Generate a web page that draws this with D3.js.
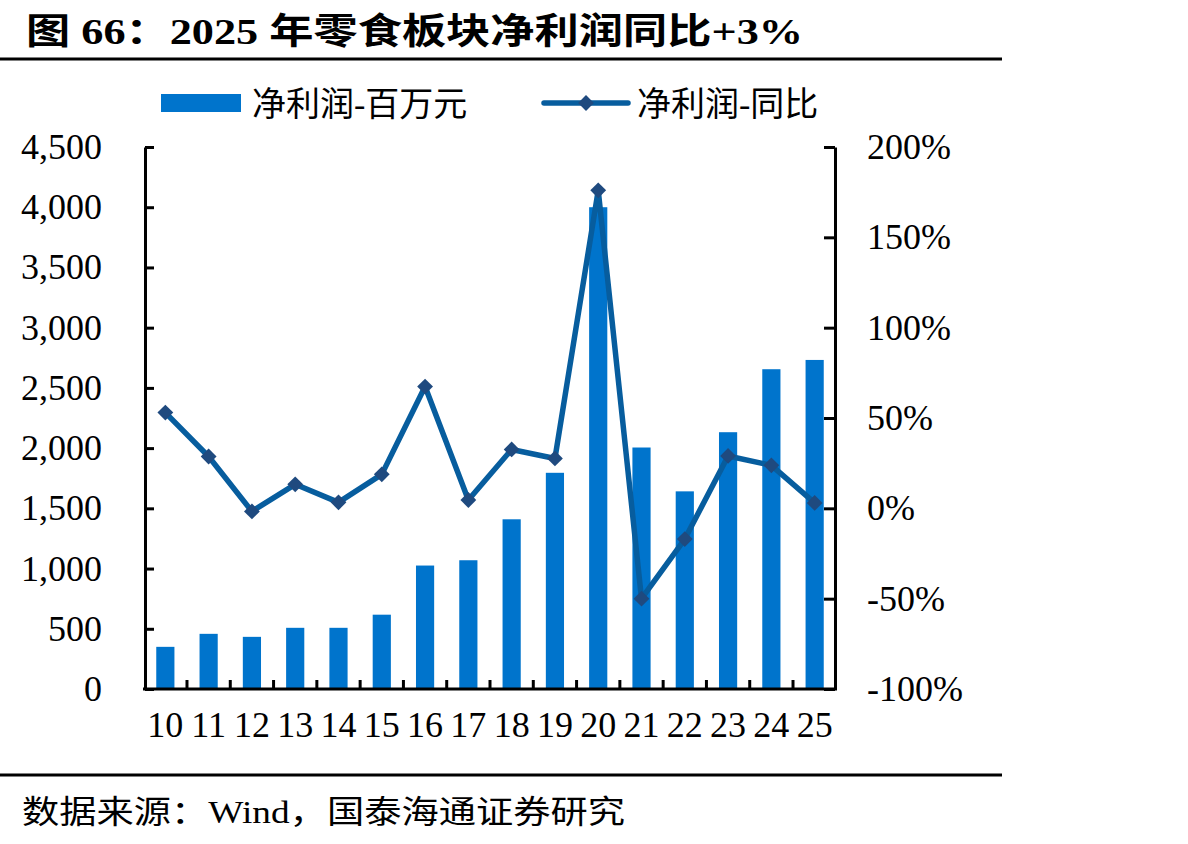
<!DOCTYPE html>
<html>
<head>
<meta charset="utf-8">
<script src="https://cdn.jsdelivr.net/npm/d3@7"></script>
<style>
  body { margin: 0; background: #fff; }
  text { font-family: "Liberation Serif", "Noto Sans CJK SC", serif; }
</style>
</head>
<body>
<div id="chart"></div>
<script>
// data
const years = ['10','11','12','13','14','15','16','17','18','19','20','21','22','23','24','25'];
const netProfit = [350, 458, 433, 508, 508, 617, 1025, 1069, 1409, 1795, 4000, 2005, 1641, 2132, 2655, 2732]; // 百万元
const yoyGrowth = [53, 28.7, -1.7, 13.3, 3.3, 18.8, 67.4, 4.6, 32.6, 27.6, 176, -50, -17, 29, 23.8, 3]; // %
const leftTicks = [0, 500, 1000, 1500, 2000, 2500, 3000, 3500, 4000, 4500];
const rightTicks = [-100, -50, 0, 50, 100, 150, 200];

const barColor = '#0074cc';
const lineColor = '#075d9e';
const markerColor = '#1f4a7f';

const svg = d3.select('#chart')
  .append('svg')
  .attr('width', 1188)
  .attr('height', 844);

// title + rules
svg.append('text')
  .attr('x', 26)
  .attr('y', 44)
  .attr('textLength', 777)
  .attr('lengthAdjust', 'spacingAndGlyphs')
  .style('font-size', '36px')
  .style('font-weight', 'bold')
  .text('图 66：2025 年零食板块净利润同比+3%');

svg.append('line')
  .attr('x1', 0).attr('x2', 1002)
  .attr('y1', 59).attr('y2', 59)
  .attr('stroke', '#000').attr('stroke-width', 3);

svg.append('line')
  .attr('x1', 0).attr('x2', 1002)
  .attr('y1', 775).attr('y2', 775)
  .attr('stroke', '#000').attr('stroke-width', 3);

svg.append('text')
  .attr('x', 22)
  .attr('y', 823)
  .attr('textLength', 603)
  .attr('lengthAdjust', 'spacingAndGlyphs')
  .style('font-size', '32px')
  .text('数据来源：Wind，国泰海通证券研究');

// scales
const plotLeft = 145, plotRight = 835, plotTop = 147, plotBottom = 689;

const x = d3.scaleBand()
  .domain(years)
  .range([plotLeft, plotRight])
  .paddingInner(0.58)
  .paddingOuter(0.26);

const y = d3.scaleLinear().domain([0, 4500]).range([plotBottom, plotTop]);
const y2 = d3.scaleLinear().domain([-100, 200]).range([plotBottom, plotTop]);

// bars
svg.selectAll('.bar')
  .data(years)
  .enter()
  .append('rect')
  .attr('class', 'bar')
  .attr('x', d => x(d))
  .attr('width', x.bandwidth())
  .attr('y', (d, i) => y(netProfit[i]))
  .attr('height', (d, i) => plotBottom - y(netProfit[i]))
  .attr('fill', barColor);

// axes
const leftAxis = svg.append('g')
  .attr('transform', `translate(${plotLeft},0)`)
  .call(d3.axisLeft(y).tickValues(leftTicks).tickSize(-9).tickSizeOuter(0).tickPadding(43)
    .tickFormat(d3.format(',')));

const rightAxis = svg.append('g')
  .attr('transform', `translate(${plotRight},0)`)
  .call(d3.axisRight(y2).tickValues(rightTicks).tickSize(-11).tickSizeOuter(0).tickPadding(32)
    .tickFormat(d => d + '%'));

const bottomAxis = svg.append('g')
  .attr('transform', `translate(0,${plotBottom})`)
  .call(d3.axisBottom(x).tickSize(0).tickPadding(22));

[leftAxis, rightAxis, bottomAxis].forEach(g => {
  g.selectAll('path').attr('stroke', '#000').attr('stroke-width', 3);
  g.selectAll('line').attr('stroke', '#000').attr('stroke-width', 3);
  g.selectAll('text')
    .style('font-size', '36px')
    .style('font-family', '"Liberation Serif", serif')
    .attr('fill', '#000');
});
bottomAxis.select('.domain').attr('d', `M${plotLeft - 2},0H${plotRight + 2}`);

// category separator ticks on x axis
svg.selectAll('.xsep')
  .data(years.slice(0, -1))
  .enter()
  .append('line')
  .attr('class', 'xsep')
  .attr('x1', d => x(d) + x.bandwidth() / 2 + x.step() / 2)
  .attr('x2', d => x(d) + x.bandwidth() / 2 + x.step() / 2)
  .attr('y1', plotBottom)
  .attr('y2', plotBottom - 9)
  .attr('stroke', '#000')
  .attr('stroke-width', 3);

// yoy line
const cx = d => x(d) + x.bandwidth() / 2;
const line = d3.line()
  .x((d, i) => cx(years[i]))
  .y(d => y2(d));

svg.append('path')
  .datum(yoyGrowth)
  .attr('d', line)
  .attr('fill', 'none')
  .attr('stroke', lineColor)
  .attr('stroke-width', 5.5)
  .attr('stroke-linejoin', 'round');

const diamond = d3.symbol(d3.symbolSquare, 125);
svg.selectAll('.marker')
  .data(yoyGrowth)
  .enter()
  .append('path')
  .attr('class', 'marker')
  .attr('d', diamond)
  .attr('transform', (d, i) => `translate(${cx(years[i])},${y2(d)}) rotate(45)`)
  .attr('fill', markerColor);

// legend
const legend = svg.append('g').attr('class', 'legend');
legend.append('rect')
  .attr('x', 161).attr('y', 94)
  .attr('width', 80).attr('height', 18)
  .attr('fill', barColor);
legend.append('text')
  .attr('x', 252).attr('y', 104)
  .attr('dominant-baseline', 'central')
  .style('font-size', '34px')
  .text('净利润-百万元');

legend.append('line')
  .attr('x1', 544).attr('x2', 628)
  .attr('y1', 103).attr('y2', 103)
  .attr('stroke', lineColor)
  .attr('stroke-width', 5.5)
  .attr('stroke-linecap', 'round');
legend.append('path')
  .attr('d', diamond)
  .attr('transform', 'translate(586,103) rotate(45)')
  .attr('fill', markerColor);
legend.append('text')
  .attr('x', 637).attr('y', 104)
  .attr('dominant-baseline', 'central')
  .style('font-size', '34px')
  .text('净利润-同比');
</script>
</body>
</html>
